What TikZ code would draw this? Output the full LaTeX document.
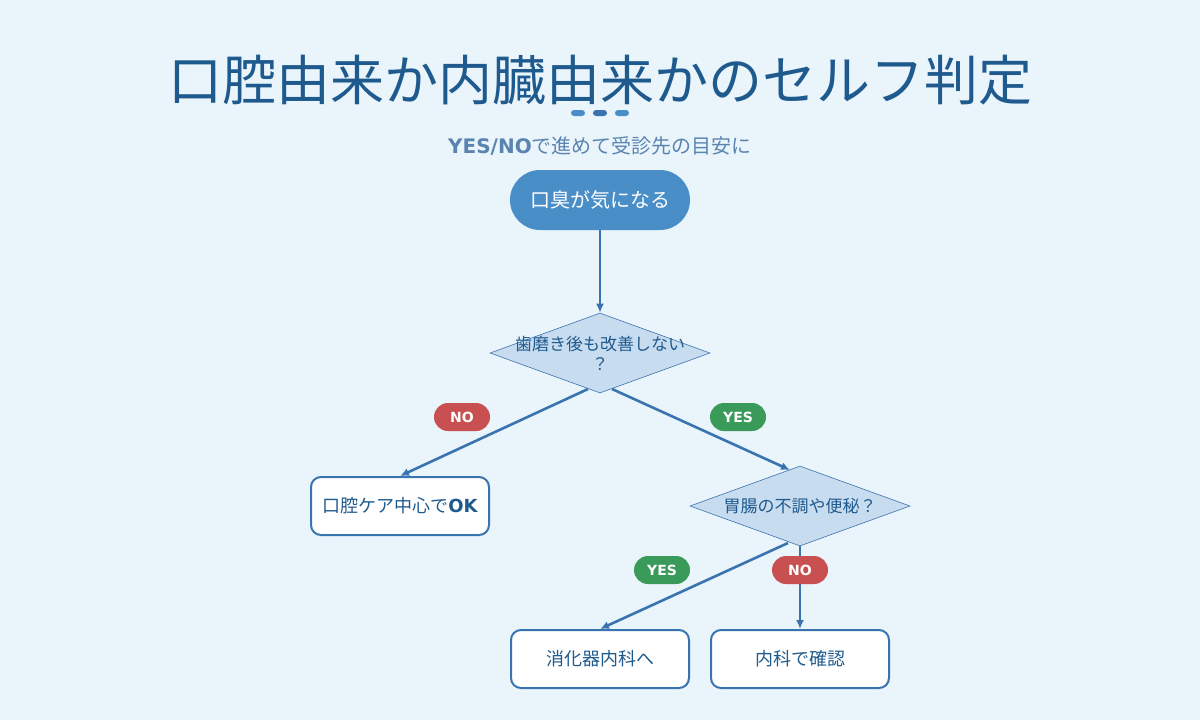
\documentclass[tikz,border=0pt]{standalone}
\usepackage{fontspec}
\setmainfont{Noto Sans CJK JP}
\newfontfamily\dv{DejaVu Sans}
\usetikzlibrary{shapes.geometric,arrows.meta}
\definecolor{bg}{HTML}{EAF4FB}
\definecolor{navy}{HTML}{1F5A8E}
\definecolor{sub}{HTML}{5A84B0}
\definecolor{blue}{HTML}{4A8EC8}
\definecolor{edge}{HTML}{3A74B0}
\definecolor{dfill}{HTML}{C8DCF0}
\definecolor{nored}{HTML}{C85050}
\definecolor{yesgr}{HTML}{3A9A5A}
\begin{document}
\begin{tikzpicture}[x=1pt,y=-1pt,
 box/.style={draw=edge,line width=2pt,fill=white,rounded corners=10pt,minimum width=178pt,minimum height=58pt,font=\fontsize{18}{20}\selectfont,text=navy},
 dia/.style={diamond,draw=edge,line width=0.6pt,fill=dfill,minimum width=220pt,minimum height=80pt,aspect=2.75,inner sep=0pt,font=\fontsize{17}{20}\selectfont,text=navy,align=center},
 pill/.style={rounded corners=14pt,minimum width=56pt,minimum height=28pt,inner sep=0pt,text=white,font=\dv\bfseries\fontsize{14}{16}\selectfont},
 arr/.style={draw=edge,line width=2.6pt,-{Latex[length=9pt,width=8pt]}}]
\fill[bg] (0,0) rectangle (1200,720);
\node[text=navy,font=\fontsize{54}{60}\selectfont] (title) at (600,80) {口腔由来か内臓由来かのセルフ判定};
\fill[blue,rounded corners=3pt] (571,110) rectangle (585,116);
\fill[edge,rounded corners=3pt] (593,110) rectangle (607,116);
\fill[blue,rounded corners=3pt] (615,110) rectangle (629,116);
\node[text=sub,font=\fontsize{20}{24}\selectfont] (subt) at (600,146) {{\dv\bfseries YES/NO}で進めて受診先の目安に};
\node[fill=blue,rounded corners=30pt,minimum width=180pt,minimum height=60pt,text=white,font=\fontsize{20}{24}\selectfont] (start) at (600,200) {口臭が気になる};
\node[dia] (d1) at (600,353) {};
\node[text=navy,font=\fontsize{17}{20}\selectfont,align=center] at (600,353) {歯磨き後も改善しない\\？};
\node[box] (left) at (400,506) {口腔ケア中心で{\dv\bfseries OK}};
\node[dia] (d2) at (800,506) {};
\node[text=navy,font=\fontsize{17}{20}\selectfont] at (800,506) {胃腸の不調や便秘？};
\node[box] (b1) at (600,659) {消化器内科へ};
\node[box] (b2) at (800,659) {内科で確認};
\coordinate (d1l) at (588,389); \coordinate (d1r) at (612,389);
\coordinate (d2l) at (788,543); \coordinate (d2b) at (800,546);
\draw[arr] (start) -- (d1.north);
\draw[arr] (d1l) -- (left.north);
\draw[arr] (d1r) -- (790,470);
\draw[arr] (d2l) -- (b1.north);
\draw[arr] (d2b) -- (b2.north);
\node[pill,fill=nored] (no1) at (462,417) {NO};
\node[pill,fill=yesgr] (yes1) at (738,417) {YES};
\node[pill,fill=yesgr] (yes2) at (662,570) {YES};
\node[pill,fill=nored] (no2) at (800,570) {NO};
\end{tikzpicture}
\end{document}
